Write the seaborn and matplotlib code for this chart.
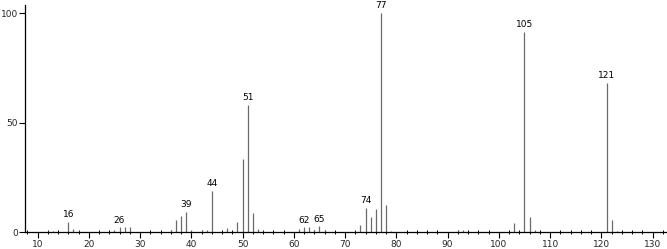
import matplotlib
matplotlib.use("Agg")
import matplotlib.pyplot as plt
from matplotlib.ticker import MultipleLocator, FixedLocator
import seaborn as sns
import pandas as pd

mz = [12, 13, 16, 17, 18, 25, 26, 27, 28, 36, 37, 38, 39, 40, 42, 43, 44, 47,
      49, 50, 51, 52, 53, 54, 61, 62, 63, 64, 65, 66, 72, 73, 74, 75, 76, 77,
      78, 79, 92, 93, 103, 105, 106, 107, 121, 122, 123]
intensity = [0.6, 0.5, 4.6, 1.4, 0.6, 1.0, 2.1, 2.1, 2.3, 0.8, 5.5, 7.3, 9.1, 1.0,
             0.7, 1.0, 18.9, 2.0, 4.4, 33.2, 58.2, 8.5, 1.5, 0.6, 1.4, 2.1, 2.1,
             0.8, 2.6, 1.0, 0.6, 3.0, 10.9, 6.9, 10.6, 100.0, 12.4, 0.6, 1.0,
             0.7, 3.9, 91.3, 6.8, 0.8, 68.0, 5.6, 0.6]
labeled = [16, 26, 39, 44, 51, 62, 65, 74, 77, 105, 121]
x_ticks = [10, 20, 30, 40, 50, 60, 70, 80, 90, 100, 110, 120, 130]
y_ticks = [0, 50, 100]

df = pd.DataFrame({"mz": mz, "intensity": intensity})

sns.set_style("ticks")
plt.rcParams["font.family"] = ["DejaVu Sans"]

fig = plt.figure(figsize=(6.67, 2.49), dpi=100)
ax = fig.add_axes([25 / 667, 17 / 249, 642 / 667, 227 / 249])

ax.vlines(df["mz"], 0, df["intensity"], color="#6a6a6a", linewidth=0.9)

lookup = dict(zip(mz, intensity))
for m in labeled:
    ax.annotate(str(m), (m, lookup[m]), xytext=(0, 2), textcoords="offset points",
                ha="center", va="bottom", fontsize=6.5, color="black")

ax.set_xlim(7.56, 132.8)
ax.set_ylim(0, 103.7)
ax.xaxis.set_major_locator(FixedLocator(x_ticks))
ax.xaxis.set_minor_locator(MultipleLocator(2))
ax.yaxis.set_major_locator(FixedLocator(y_ticks))
ax.tick_params(axis="x", which="major", direction="out", length=4, width=0.8,
               labelsize=6.5, pad=2, color="black")
ax.tick_params(axis="x", which="minor", direction="inout", length=3, width=0.7,
               color="black")
ax.tick_params(axis="y", which="major", direction="out", length=4, width=0.8,
               labelsize=6.5, pad=1, color="black")
sns.despine(ax=ax)
for s in ["left", "bottom"]:
    ax.spines[s].set_color("black")
    ax.spines[s].set_linewidth(0.9)
ax.set_xlabel("")
ax.set_ylabel("")

fig.savefig("out.png", dpi=100)
